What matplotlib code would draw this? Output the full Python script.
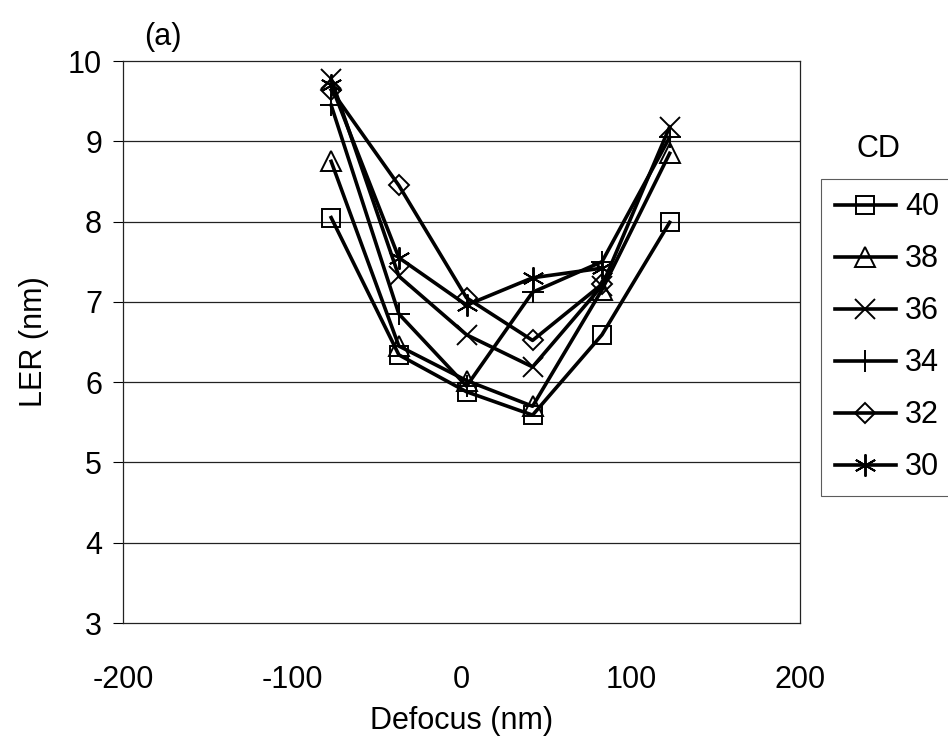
import numpy as np
import matplotlib
matplotlib.use('Agg')
import matplotlib.pyplot as plt

plt.rcParams['font.family'] = ['Liberation Sans', 'DejaVu Sans']
plt.rcParams['axes.unicode_minus'] = False

# values
defocus = [-77, -37, 3, 42, 83, 123]
cd_labels = ['40', '38', '36', '34', '32', '30']
ler_40 = [8.05, 6.34, 5.88, 5.59, 6.59, 7.99]
ler_38 = [8.75, 6.45, 6.02, 5.70, 7.15, 8.85]
ler_36 = [9.78, 7.32, 6.59, 6.19, 7.20, 9.18]
ler_34 = [9.45, 6.85, 5.95, 7.12, 7.50, 9.05]
ler_32 = [9.64, 8.45, 7.05, 6.52, 7.22, np.nan]
ler_30 = [9.70, 7.55, 6.96, 7.30, 7.42, np.nan]

series = [ler_40, ler_38, ler_36, ler_34, ler_32, ler_30]
markers = ['s', '^', 'x', '+', 'D', (6, 2, 0)]
msizes = [13, 14, 14, 16, 10, 16]

fig = plt.figure(figsize=(9.48, 7.44), dpi=100)
ax = fig.add_axes([0.1297, 0.1626, 0.7142, 0.7554])

# horizontal grid lines
for yv in range(4, 10):
    ax.axhline(yv, color='#222222', lw=0.9, zorder=1)

for vals, lab, m, ms in zip(series, cd_labels, markers, msizes):
    ax.plot(defocus, vals, color='black', lw=2.6, marker=m, markersize=ms,
            markerfacecolor='none', markeredgecolor='black', markeredgewidth=1.4,
            label=lab, zorder=3)

ax.set_xlim(-200, 200)
ax.set_ylim(3, 10)
ax.set_xticks([-200, -100, 0, 100, 200])
ax.set_yticks(range(3, 11))
ax.tick_params(axis='y', direction='out', length=7, width=0.8, labelsize=22, pad=8)
ax.tick_params(axis='x', direction='out', length=0, labelsize=22, pad=30)
for sp in ax.spines.values():
    sp.set_linewidth(0.9)
    sp.set_color('#222222')

ax.set_xlabel('Defocus (nm)', fontsize=22, labelpad=8)
ax.set_ylabel('LER (nm)', fontsize=22, labelpad=14)

fig.text(0.172, 0.95, '(a)', fontsize=22, ha='center', va='center')
fig.text(0.927, 0.80, 'CD', fontsize=22, ha='center', va='center')

leg = fig.legend(loc='upper left', bbox_to_anchor=(0.866, 0.760), fontsize=22,
                 frameon=True, fancybox=False, handlelength=2.0, handletextpad=0.3,
                 labelspacing=0.72, borderpad=0.45, borderaxespad=0)
leg.get_frame().set_edgecolor('#333333')
leg.get_frame().set_linewidth(0.8)

fig.savefig('out.png', dpi=100)
